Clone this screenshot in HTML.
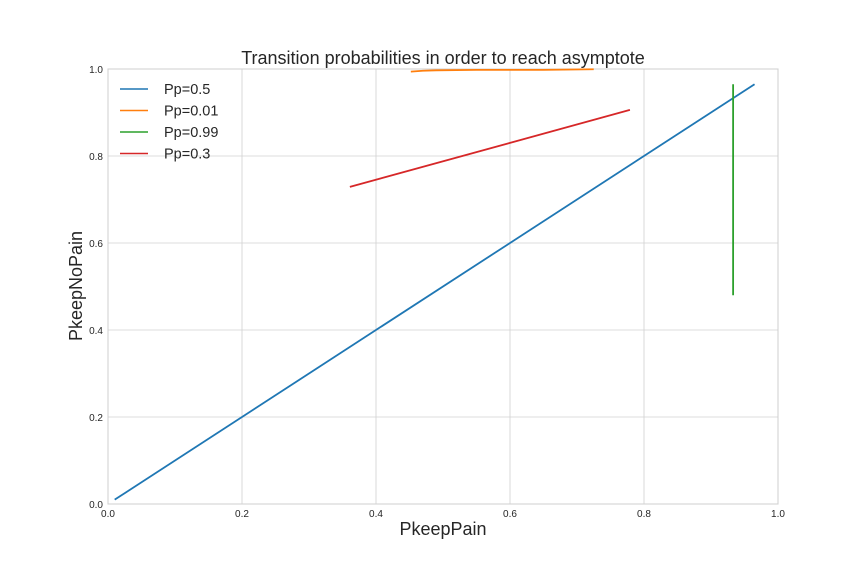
<!DOCTYPE html>
<html><head><meta charset="utf-8"><style>
body{margin:0;background:#fff;font-family:"Liberation Sans",sans-serif}
svg text{font-family:"Liberation Sans",sans-serif}
</style></head><body>
<svg width="864" height="576" id="c"></svg>
<script>
const xTicks=[0,0.2,0.4,0.6,0.8,1.0];
const yTicks=[0,0.2,0.4,0.6,0.8,1.0];
const tickLabels=["0.0","0.2","0.4","0.6","0.8","1.0"];
const seriesNames=["Pp=0.5","Pp=0.01","Pp=0.99","Pp=0.3"];
const colors=["#1f77b4","#ff7f0e","#2ca02c","#d62728"];
const blueX=[0.01,0.965], blueY=[0.01,0.965];
const orangeX=[0.452,0.47,0.49,0.55,0.65,0.725], orangeY=[0.994,0.996,0.997,0.998,0.998,0.9995];
const greenX=[0.933,0.933], greenY=[0.48,0.965];
const redX=[0.361,0.779], redY=[0.729,0.906];
const L=108,R=778,T=69,B=504;
const sx=v=>L+v*(R-L), sy=v=>B-v*(B-T);
const svg=document.getElementById('c');const NS='http://www.w3.org/2000/svg';
function mk(t,a,txt){const e=document.createElementNS(NS,t);for(const k in a)e.setAttribute(k,a[k]);if(txt!==undefined)e.textContent=txt;svg.appendChild(e);return e;}
let e=mk('rect',{x:L,y:T,width:R-L,height:B-T,fill:'#fff',stroke:'#ccc','stroke-width':1});

xTicks.forEach((v,i)=>{
 e=mk('line',{x1:sx(v),x2:sx(v),y1:T,y2:B,stroke:'#d0d0d0','stroke-width':0.8});
 
 e=mk('text',{x:sx(v),y:B+13,'font-size':10,fill:'#262626','text-anchor':'middle'},tickLabels[i]);
 
});
yTicks.forEach((v,i)=>{
 e=mk('line',{x1:L,x2:R,y1:sy(v),y2:sy(v),stroke:'#d0d0d0','stroke-width':0.8});
 
 e=mk('text',{x:L-5,y:sy(v)+4,'font-size':10,fill:'#262626','text-anchor':'end'},tickLabels[i]);
 
});
const series=[[blueX,blueY],[orangeX,orangeY],[greenX,greenY],[redX,redY]];
series.forEach((s,i)=>{
 const pts=s[0].map((x,j)=>sx(x)+','+sy(s[1][j])).join(' ');
 e=mk('polyline',{points:pts,fill:'none',stroke:colors[i],'stroke-width':1.8});
 
});
seriesNames.forEach((n,i)=>{
 const y=89+i*21.5;
 e=mk('line',{x1:120,x2:148,y1:y,y2:y,stroke:colors[i],'stroke-width':1.6});
 
 e=mk('text',{x:164,y:y+5,'font-size':14.5,fill:'#262626'},n);
 
});
e=mk('text',{x:443,y:64,'font-size':18,fill:'#262626','text-anchor':'middle'},'Transition probabilities in order to reach asymptote');

e=mk('text',{x:443,y:535,'font-size':18,fill:'#262626','text-anchor':'middle'},'PkeepPain');

e=mk('text',{x:0,y:0,'font-size':18,fill:'#262626','text-anchor':'middle',transform:'translate(82,286) rotate(-90)'},'PkeepNoPain');

</script>
</body></html>
